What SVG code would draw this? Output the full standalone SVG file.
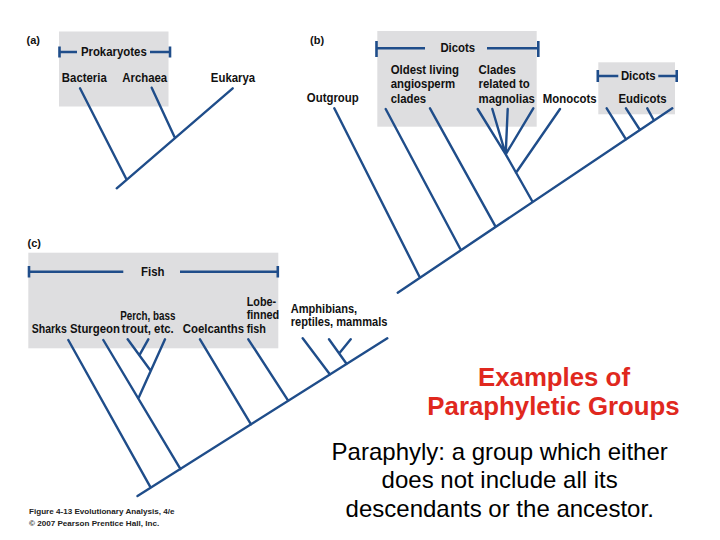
<svg xmlns="http://www.w3.org/2000/svg" width="720" height="540" viewBox="0 0 720 540">
<style>
.box{fill:#dedee0}
.br{stroke:#1f4d8a;stroke-width:2.6;fill:none}
.ln{stroke:#1f4d8a;stroke-width:2.4;fill:none;stroke-linecap:round}
.lb{font-family:"Liberation Sans",Arial,sans-serif;font-weight:bold;font-size:12.6px;fill:#111}
.pn{font-family:"Liberation Sans",Arial,sans-serif;font-weight:bold;font-size:11px;fill:#111}
.red{font-family:"Liberation Sans",Arial,sans-serif;font-weight:bold;font-size:25.8px;fill:#e0281e;text-anchor:middle}
.blk{font-family:"Liberation Sans",Arial,sans-serif;font-size:24px;fill:#000;text-anchor:middle}
.ft{font-family:"Liberation Sans",Arial,sans-serif;font-weight:bold;font-size:8.1px;fill:#222}
.m{text-anchor:middle}
</style>
<rect width="720" height="540" fill="#fff"/>

<!-- panel a -->
<g id="panel-a">
<text class="pn" x="26.5" y="43.5">(a)</text>
<g id="prokaryotes">
<rect class="box" x="59" y="31.5" width="109.5" height="75"/>
<path class="br" d="M59.5 46.5V57.5M59.5 52H77M150 52H170M170 46.5V57.5"/>
<text class="lb m" transform="translate(113.8 56) scale(0.905 1)">Prokaryotes</text>
</g>
<text id="bacteria" class="lb m" transform="translate(84.3 81.7) scale(0.905 1)">Bacteria</text>
<text id="archaea" class="lb m" transform="translate(144.7 81.7) scale(0.905 1)">Archaea</text>
<text id="eukarya" class="lb m" transform="translate(233 81.7) scale(0.905 1)">Eukarya</text>
</g>

<!-- panel b -->
<g id="panel-b">
<text class="pn" x="310" y="43.5">(b)</text>
<g id="dicots-b">
<rect class="box" x="377.3" y="31" width="159.4" height="95.7"/>
<path class="br" d="M376.5 41V57M376.5 48.3H425M487 48.3H538.3M538.3 41V57"/>
<text class="lb m" transform="translate(457.8 52.3) scale(0.905 1)">Dicots</text>
</g>
<text id="outgroup" class="lb m" transform="translate(332.8 102.3) scale(0.905 1)">Outgroup</text>
<text id="oldest" class="lb" transform="translate(390.7 74) scale(0.905 1)"><tspan x="0" y="0">Oldest living</tspan><tspan x="0" y="14.5">angiosperm</tspan><tspan x="0" y="29">clades</tspan></text>
<text id="magnolias" class="lb" transform="translate(478.5 74) scale(0.905 1)"><tspan x="0" y="0">Clades</tspan><tspan x="0" y="14.5">related to</tspan><tspan x="0" y="29">magnolias</tspan></text>
<text id="monocots" class="lb m" transform="translate(569.7 103) scale(0.905 1)">Monocots</text>
<g id="dicots-small">
<rect class="box" x="598.3" y="62.3" width="76.7" height="52"/>
<path class="br" d="M597.8 70V82M597.8 76H618.3M658.3 76H676.7M676.7 70V82"/>
<text class="lb m" transform="translate(638.3 80.3) scale(0.905 1)">Dicots</text>
</g>
<text id="eudicots" class="lb m" transform="translate(642.5 103) scale(0.905 1)">Eudicots</text>
</g>

<!-- panel c -->
<g id="panel-c">
<text class="pn" x="27.5" y="246.7">(c)</text>
<g id="fish">
<rect class="box" x="28.3" y="252.7" width="250" height="95.6"/>
<path class="br" d="M29 266V277.5M29 271.7H123.3M180 271.7H277.8M277.8 266V277.5"/>
<text class="lb m" transform="translate(152.8 275.5) scale(0.905 1)">Fish</text>
</g>
<text id="sharks" class="lb" transform="translate(31.7 332.7) scale(0.835 1)">Sharks</text>
<text id="sturgeon" class="lb" transform="translate(70 332.7) scale(0.905 1)">Sturgeon</text>
<text id="perch" class="lb" transform="translate(120.3 319.8) scale(0.78 1)">Perch, bass</text>
<text id="trout" class="lb" transform="translate(121.8 332.7) scale(0.905 1)">trout, etc.</text>
<text id="coelcanths" class="lb" transform="translate(182.7 332.7) scale(0.905 1)">Coelcanths</text>
<text id="lobefin" class="lb" transform="translate(246.7 306) scale(0.86 1)"><tspan x="0" y="0">Lobe-</tspan><tspan x="0" y="13.4">finned</tspan><tspan x="0" y="26.7">fish</tspan></text>
<text id="tetrapods" class="lb" transform="translate(290.7 312.5) scale(0.88 1)"><tspan x="0" y="0">Amphibians,</tspan><tspan x="0" y="14">reptiles, mammals</tspan></text>
</g>

<g id="connectors">
<!-- a -->
<path class="ln" d="M116.7 188.3L232.7 88.3M80 88.3L126.7 179.7M151.7 87.7L175 138"/>
<!-- b -->
<path class="ln" d="M397.7 292.7L672.3 108.3M334.3 108.3L420 277.7M385.7 109L461 250.2M430 108.3L495.7 226.9M477.7 109L505.7 154.3M492.3 109L505.7 154.3M507.7 109L505.7 154.3M533.3 108.3L505.7 154.3M505.7 154.3L532.7 202M560 109L516 172.7M606.7 108.3L626 139.4M626 108.3L640 130M647.3 108.3L654 120.5"/>
<!-- c -->
<path class="ln" d="M137.5 496L387.3 338.3M68.3 340L150.7 487.7M103.3 340L180.5 469.2M165 339.3L138.3 398.5M127.7 339.3L150.5 370.5M148.3 339.3L139.3 355.3M200 339.3L251 424.4M248.3 339.3L288.3 400.8M302.7 338.3L330 374.5M329 339.3L346.7 364M350.7 339.3L339.3 353.3"/>
</g>

<g id="caption">
<text class="red" x="554" y="385.5">Examples of</text>
<text class="red" x="553.5" y="415">Paraphyletic Groups</text>
<text class="blk" x="499.7" y="460">Paraphyly: a group which either</text>
<text class="blk" x="499.7" y="488.3">does not include all its</text>
<text class="blk" x="499.7" y="516.7">descendants or the ancestor.</text>
</g>
<g id="credit">
<text class="ft" x="29" y="514">Figure 4-13  Evolutionary Analysis, 4/e</text>
<text class="ft" x="29" y="525.7">© 2007 Pearson Prentice Hall, Inc.</text>
</g>
</svg>
